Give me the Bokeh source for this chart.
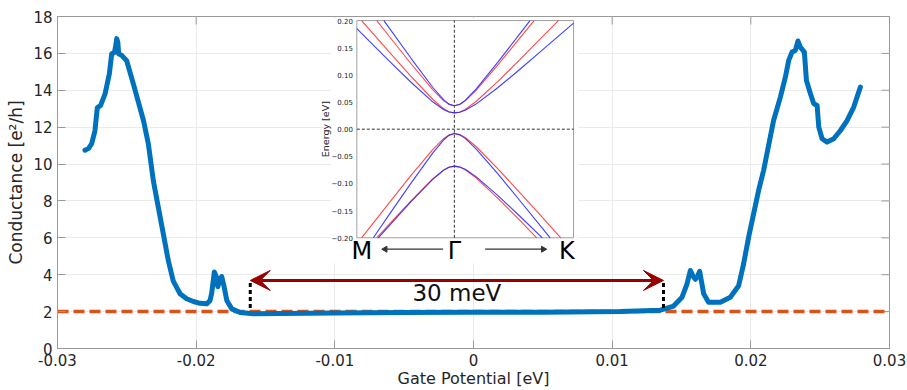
from bokeh.plotting import figure
from bokeh.models import Range1d, FixedTicker, Arrow, VeeHead
from bokeh.core.properties import value
from bokeh.embed import file_html
from bokeh.resources import INLINE

# ---------------- main data ----------------
gate = [-0.02802, -0.02775, -0.02754, -0.0273, -0.02713, -0.02689, -0.02657, -0.02626,
        -0.02609, -0.0259, -0.0258, -0.02573, -0.02565, -0.02559, -0.02537, -0.02501,
        -0.02453, -0.0238, -0.02345, -0.02309, -0.02273, -0.02237, -0.02201, -0.02165,
        -0.02116, -0.02069, -0.0202, -0.01972, -0.01924, -0.019, -0.01888, -0.01869,
        -0.01855, -0.01844, -0.0183, -0.01816, -0.018, -0.01779, -0.01743, -0.01683,
        -0.01587, -0.01395, -0.01, -0.005, 0.0, 0.005, 0.01059, 0.01347, 0.01443,
        0.01504, 0.0154, 0.01564, 0.01585, 0.016, 0.01615, 0.01631, 0.01645, 0.0166,
        0.01695, 0.0178, 0.01852, 0.01912, 0.01948, 0.01984, 0.0202, 0.02056, 0.02092,
        0.02128, 0.02164, 0.02213, 0.02249, 0.02273, 0.02297, 0.02321, 0.0234, 0.02357,
        0.02386, 0.02401, 0.0243, 0.02454, 0.02478, 0.0249, 0.02514, 0.0255, 0.02598,
        0.02646, 0.02694, 0.02742, 0.0279]
conductance = [10.75, 10.85, 11.1, 11.8, 13.05, 13.18, 13.8, 14.9,
               15.98, 16.05, 16.4, 16.8, 16.6, 15.98, 15.89, 15.6,
               14.35, 12.36, 11.1, 9.11, 7.66, 6.22, 4.77, 3.65,
               2.97, 2.7, 2.55, 2.45, 2.42, 2.6, 3.0, 4.15,
               3.9, 3.35, 3.7, 3.9, 3.4, 2.6, 2.15, 1.95,
               1.88, 1.9, 1.93, 1.95, 1.96, 1.97, 2.0, 2.08, 2.3,
               2.78, 3.51, 4.23, 3.9, 3.75, 3.9, 4.19, 3.6, 2.97,
               2.51, 2.51, 2.78, 3.4, 4.59, 6.03, 7.3, 8.57, 9.65,
               11.0, 12.36, 13.63, 14.71, 15.62, 16.07, 16.16, 16.67, 16.34,
               16.07, 14.53, 13.81, 13.27, 13.18, 12.0, 11.37, 11.19, 11.37,
               11.82, 12.36, 13.09, 14.17]

ref_x = [-0.03, 0.03]
ref_y = [2, 2]

x_ticks = [-0.03, -0.02, -0.01, 0, 0.01, 0.02, 0.03]
x_labels = ["-0.03", "-0.02", "-0.01", "0", "0.01", "0.02", "0.03"]
y_ticks = [0, 2, 4, 6, 8, 10, 12, 14, 16, 18]
x_min, x_max = -0.03, 0.03
y_min, y_max = 0, 18

gap_edges = [-0.0161, 0.0137]
gap_marker_bottom = [2.2, 2.2]
gap_marker_top = [3.62, 3.62]
gap_arrow_y = 3.69
gap_text = "30 meV"

# ---------------- inset data (band structure) ----------------
cu_red_k = [-0.358, -0.3, -0.2, -0.1, -0.05, -0.025, 0, 0.025, 0.05, 0.1, 0.2, 0.3, 0.368]
cu_red_E = [0.2, 0.1707, 0.1205, 0.0727, 0.0526, 0.0457, 0.043, 0.0455, 0.0521, 0.0715, 0.1178, 0.1666, 0.2]
cu_blue_k = [-0.325, -0.3, -0.2, -0.1, -0.05, -0.025, 0, 0.025, 0.05, 0.1, 0.2, 0.3, 0.349]
cu_blue_E = [0.2, 0.186, 0.1305, 0.0772, 0.0543, 0.0462, 0.043, 0.0458, 0.053, 0.0738, 0.123, 0.1745, 0.2]
cl_red_k = [-0.428, -0.3, -0.2, -0.1, -0.05, -0.025, 0, 0.025, 0.05, 0.1, 0.2, 0.3, 0.4, 0.48]
cl_red_E = [0.2, 0.1418, 0.0972, 0.0551, 0.0379, 0.0321, 0.03, 0.0317, 0.0364, 0.051, 0.0877, 0.1272, 0.1675, 0.2]
cl_blue_k = [-0.45, -0.3, -0.2, -0.1, -0.05, -0.025, 0, 0.025, 0.05, 0.1, 0.2, 0.3, 0.4, 0.55]
cl_blue_E = [0.185, 0.1252, 0.0864, 0.0504, 0.0362, 0.0317, 0.03, 0.0313, 0.0348, 0.0462, 0.0763, 0.1095, 0.1436, 0.1954]
vu_red_k = [-0.428, -0.3, -0.2, -0.1, -0.05, -0.025, 0, 0.025, 0.05, 0.1, 0.2, 0.3, 0.4, 0.491]
vu_red_E = [-0.2, -0.1351, -0.0851, -0.0375, -0.0175, -0.0106, -0.008, -0.010, -0.0154, -0.0319, -0.0725, -0.1157, -0.1597, -0.2]
vu_blue_k = [-0.374, -0.3, -0.2, -0.1, -0.05, -0.025, 0, 0.025, 0.05, 0.1, 0.2, 0.3, 0.4, 0.442]
vu_blue_E = [-0.2, -0.1569, -0.0994, -0.044, -0.02, -0.0114, -0.008, -0.0105, -0.017, -0.0361, -0.082, -0.1304, -0.1795, -0.2]
vl_red_k = [-0.358, -0.3, -0.2, -0.1, -0.05, -0.025, 0, 0.025, 0.05, 0.1, 0.2, 0.3, 0.38]
vl_red_E = [-0.2, -0.1748, -0.1319, -0.0917, -0.0754, -0.070, -0.068, -0.0698, -0.0746, -0.0895, -0.127, -0.1672, -0.2]
vl_blue_k = [-0.351, -0.3, -0.2, -0.1, -0.05, -0.025, 0, 0.025, 0.05, 0.1, 0.2, 0.3, 0.406]
vl_blue_E = [-0.2, -0.1775, -0.1336, -0.0924, -0.0756, -0.0701, -0.068, -0.0696, -0.0738, -0.0874, -0.1219, -0.1594, -0.2]

inset_E_ticks = [0.2, 0.15, 0.1, 0.05, 0.0, -0.05, -0.1, -0.15, -0.2]
inset_E_labels = ["0.20", "0.15", "0.10", "0.05", "0.00", "\u22120.05", "\u22120.10", "\u22120.15", "\u22120.20"]
path_labels = ["M", "\u0393", "K"]
path_k = [-0.427, 0.0, 0.519]

FONT = "DejaVu Sans"
BLUE = "#0072BD"
ORANGE = "#D95319"
AX = "#9a9a9a"
TXT = "#262626"

p = figure(width=907, height=390, output_backend="svg", toolbar_location=None,
           x_range=Range1d(x_min, x_max), y_range=Range1d(y_min, y_max),
           min_border_left=57, min_border_right=18, min_border_top=16, min_border_bottom=42)
p.background_fill_color = "white"
p.border_fill_color = "white"
p.outline_line_color = AX

xa = p.xaxis[0]
xa.ticker = FixedTicker(ticks=x_ticks)
xa.major_label_overrides = {t: l for t, l in zip(x_ticks, x_labels)}
xa.axis_label = "Gate Potential [eV]"
xa.axis_label_text_font_size = "16px"
xa.axis_label_standoff = 0
xa.major_label_standoff = 5
ya = p.yaxis[0]
ya.ticker = FixedTicker(ticks=y_ticks)
ya.axis_label = "Conductance [e\u00b2/h]"
ya.axis_label_text_font_size = "17px"
ya.axis_label_standoff = 4
ya.major_label_standoff = 5
for ax in (xa, ya):
    ax.major_label_text_font = FONT
    ax.major_label_text_font_size = "15px"
    ax.major_label_text_color = TXT
    ax.axis_label_text_font = FONT
    ax.axis_label_text_font_style = "normal"
    ax.axis_label_text_color = TXT
    ax.axis_line_color = AX
    ax.major_tick_line_color = AX
    ax.major_tick_in = 8
    ax.major_tick_out = 0
    ax.minor_tick_line_color = None

p.xgrid.ticker = FixedTicker(ticks=x_ticks)
p.ygrid.ticker = FixedTicker(ticks=y_ticks)
p.grid.grid_line_color = "#ebebeb"
p.grid.grid_line_width = 1

# inward tick marks on the right and top edges of the box (half of each dash is clipped)
p.scatter(x=[x_max] * len(y_ticks), y=y_ticks, marker="dash", size=16,
          line_color=AX, line_width=1)
p.scatter(x=x_ticks, y=[y_max] * len(x_ticks), marker="dash", size=16, angle=1.5708,
          line_color=AX, line_width=1)

# reference line and conductance curve
p.line(ref_x, ref_y, line_color=ORANGE, line_width=3.5, line_dash="11 5")
p.line(gate, conductance, line_color=BLUE, line_width=5, line_join="round", line_cap="round")

# gap markers
p.segment(x0=gap_edges, y0=gap_marker_bottom, x1=gap_edges, y1=gap_marker_top,
          line_color="black", line_width=3, line_dash="4 3")
p.add_layout(Arrow(x_start=gap_edges[0], y_start=gap_arrow_y, x_end=gap_edges[1], y_end=gap_arrow_y,
                   line_color="#990000", line_width=3,
                   start=VeeHead(size=20, fill_color="#990000", line_color="#990000"),
                   end=VeeHead(size=20, fill_color="#990000", line_color="#990000")))
p.text(x=[sum(gap_edges) / 2], y=[3.02], text=[gap_text], text_align="center",
       text_baseline="middle", text_font=value(FONT), text_font_size="23px", text_color="#111111")

# ---------------- inset ----------------
inset = p.subplot(x_source=Range1d(-0.45, 0.55), y_source=Range1d(-0.2, 0.2),
                  x_target=Range1d(-0.008413, 0.007215), y_target=Range1d(6.002, 17.78))
inset.quad(left=[-0.57], right=[0.572], bottom=[-0.247], top=[0.2055],
           fill_color="white", line_color=None)
inset.quad(left=[-0.45], right=[0.55], bottom=[-0.2], top=[0.2],
           fill_color=None, line_color="#a0a0a0", line_width=1)
inset.line([0, 0], [-0.2, 0.2], line_color="#333333", line_width=1, line_dash="3 2")
inset.line([-0.45, 0.55], [0, 0], line_color="#333333", line_width=1, line_dash="3 2")
RED = "#ff3535"
BL = "#2a2aff"
for k, E, c in ((cu_red_k, cu_red_E, RED), (cu_blue_k, cu_blue_E, BL),
                (cl_red_k, cl_red_E, RED), (cl_blue_k, cl_blue_E, BL),
                (vu_red_k, vu_red_E, RED), (vu_blue_k, vu_blue_E, BL),
                (vl_red_k, vl_red_E, RED), (vl_blue_k, vl_blue_E, BL)):
    inset.line(k, E, line_color=c, line_width=1.1, line_alpha=0.9)

inset.text(x=[-0.468] * len(inset_E_ticks), y=inset_E_ticks, text=inset_E_labels,
           text_align="right", text_baseline="middle", text_font=value(FONT),
           text_font_size="7px", text_color="#222222")
inset.text(x=[-0.596], y=[0.0], text=["Energy [eV]"], angle=1.5708, text_align="center",
           text_baseline="middle", text_font=value(FONT), text_font_size="9.5px",
           text_color="#222222")
inset.text(x=path_k, y=[-0.2234] * 3, text=path_labels, text_align="center",
           text_baseline="middle", text_font=value(FONT), text_font_size="24px",
           text_color="black")
inset.segment(x0=[-0.052, 0.142], y0=[-0.221, -0.221], x1=[-0.319, 0.41], y1=[-0.221, -0.221],
              line_color="#333333", line_width=1.2)
inset.scatter(x=[-0.319, 0.41], y=[-0.221, -0.221], marker="triangle", size=6,
              angle=[1.5708, -1.5708], fill_color="#333333", line_color="#333333")

open("out.html", "w").write(file_html(p, INLINE))
